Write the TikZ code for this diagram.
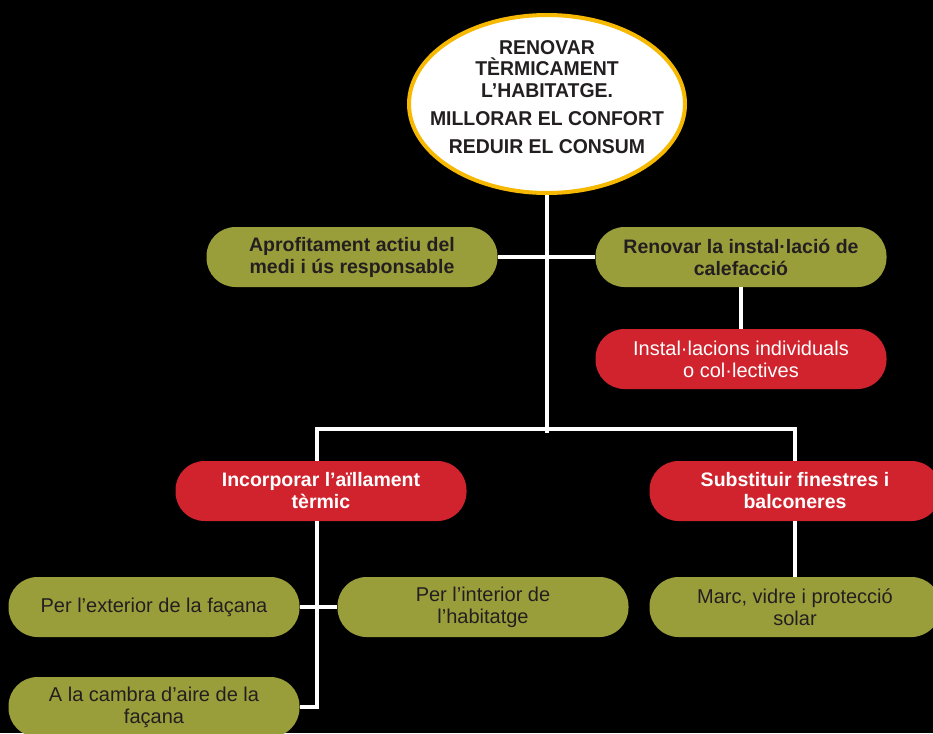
\documentclass[tikz,border=0pt]{standalone}
\usepackage{fontspec}
\setmainfont{Liberation Sans}
\newfontfamily\ellfont[FakeStretch=0.97]{Liberation Sans}
\usetikzlibrary{shapes.geometric}
\definecolor{olivec}{RGB}{154,158,58}
\definecolor{redc}{RGB}{208,35,45}
\definecolor{yellowc}{RGB}{246,184,0}
\definecolor{darkc}{RGB}{35,31,32}
\begin{document}
\begin{tikzpicture}[x=1pt,y=-1pt,
  pill/.style={rectangle, rounded corners=29pt, minimum width=291pt, minimum height=60pt, inner sep=0pt, align=center},
  olivebox/.style={pill, fill=olivec, text=darkc},
  redbox/.style={pill, fill=redc, text=white},
  boldtxt/.style={font=\fontsize{19.5}{22}\selectfont\bfseries},
  regtxt/.style={font=\fontsize{20}{22}\selectfont},
  conn/.style={draw=white, line width=3.5pt}]
\useasboundingbox (0,0) rectangle (933,733);
\fill[black] (0,0) rectangle (933,733);
\clip (0,0) rectangle (933,733);
% nodes
\node[ellipse, draw=yellowc, line width=4pt, fill=white, minimum width=276pt, minimum height=178pt, inner sep=0pt] (ell) at (547,104) {};
\node[align=center, text=darkc, font=\ellfont\fontsize{20}{21.5}\selectfont\bfseries, inner sep=0pt] (elltxt) at (547,97) {RENOVAR\\TÈRMICAMENT\\L’HABITATGE.\\[6.5pt]MILLORAR EL CONFORT\\[7pt]REDUIR EL CONSUM};
\node[olivebox, boldtxt] (aprof) at (352,257) {Aprofitament actiu del\\medi i ús responsable};
\node[olivebox, boldtxt] (renov) at (741,257) {Renovar la instal·lació de\\calefacció};
\node[redbox, regtxt] (inst) at (741,359) {Instal·lacions individuals\\o col·lectives};
\node[redbox, boldtxt] (inc) at (321,491) {Incorporar l’aïllament\\tèrmic};
\node[redbox, boldtxt] (sub) at (795,491) {Substituir finestres i\\balconeres};
\node[olivebox, regtxt] (ext) at (154,607) {Per l’exterior de la façana};
\node[olivebox, regtxt] (int) at (483,607) {Per l’interior de\\l’habitatge};
\node[olivebox, regtxt] (marc) at (795,607) {Marc, vidre i protecció\\solar};
\node[olivebox, regtxt] (cam) at (154,707) {A la cambra d’aire de la\\façana};
% connectors
\coordinate (tb) at (547,433);
\coordinate (jl) at (317,429);
\coordinate (jr) at (795,429);
\draw[conn] (ell.south) -- (tb);
\draw[conn] (aprof.east) -- (renov.west);
\draw[conn] (renov.south) -- (inst.north);
\draw[conn] (inc.north -| jl) -- (jl) -- (jr) -- (sub.north);
\draw[conn] (inc.south -| jl) -- (jl |- cam.east) -- (cam.east);
\draw[conn] (ext.east) -- (int.west);
\draw[conn] (sub.south) -- (marc.north);
\end{tikzpicture}
\end{document}
